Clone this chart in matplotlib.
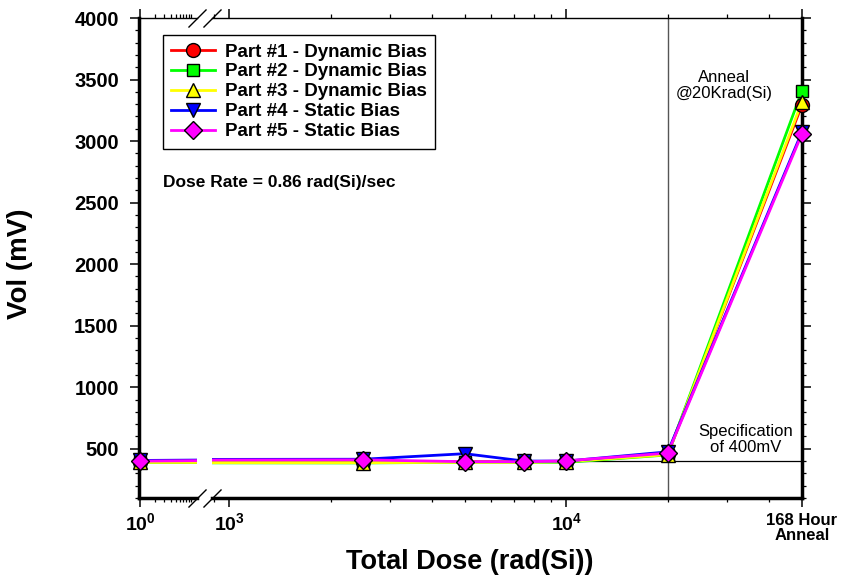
import matplotlib
matplotlib.use("Agg")
import matplotlib.pyplot as plt
from matplotlib.lines import Line2D
from matplotlib.ticker import MultipleLocator, FixedLocator, LogLocator, NullFormatter

plt.rcParams['font.family'] = 'Liberation Sans'
plt.rcParams['mathtext.fontset'] = 'custom'
plt.rcParams['mathtext.rm'] = 'Liberation Sans:bold'
plt.rcParams['mathtext.it'] = 'Liberation Sans:bold'
plt.rcParams['mathtext.bf'] = 'Liberation Sans:bold'

# total dose in rad(Si); the last point is the 168 hour anneal
dose = [1, 2500, 5000, 7500, 10000, 20000, 50000]

part1 = [395, 390, 395, 395, 395, 455, 3295]
part2 = [390, 385, 390, 390, 390, 450, 3410]
part3 = [390, 387, 390, 390, 395, 452, 3320]
part4 = [405, 415, 460, 400, 400, 475, 3075]
part5 = [400, 410, 395, 395, 402, 465, 3060]

labels = ["Part #1 - Dynamic Bias", "Part #2 - Dynamic Bias", "Part #3 - Dynamic Bias",
          "Part #4 - Static Bias", "Part #5 - Static Bias"]
colors = ['#ff0000', '#00ff00', '#ffff00', '#0000ff', '#ff00ff']
markers = ['o', 's', '^', 'v', 'D']
sizes = [10, 9, 10, 10, 9]
series = [part1, part2, part3, part4, part5]

spec_limit = 400
anneal_dose = 20000

W, H = 847, 577
fig = plt.figure(figsize=(W / 100, H / 100), dpi=100)
bottom = (H - 498) / H
height = 480 / H
axL = fig.add_axes([139 / W, bottom, 58 / W, height])
axR = fig.add_axes([212 / W, bottom, 590 / W, height])

for ax in (axL, axR):
    ax.set_xscale('log')
    ax.set_ylim(100, 4000)
    ax.yaxis.set_major_locator(MultipleLocator(500))
    ax.yaxis.set_minor_locator(MultipleLocator(100))
    ax.axhline(spec_limit, color='k', lw=0.9, zorder=2)
    for i, vals in enumerate(series):
        ax.plot(dose, vals, color=colors[i], lw=2.0, zorder=3 + i)
    ax.spines['top'].set_linewidth(1.0)
    ax.spines['bottom'].set_linewidth(2.5)
    ax.tick_params(which='major', length=6.5, width=1.1, direction='out')
    ax.tick_params(which='minor', length=3, width=0.9, direction='out')
    ax.tick_params(axis='x', which='both', top=True, labeltop=False)
    ax.tick_params(axis='x', which='major', labelsize=14, pad=4)

# left piece: 10^0
axL.set_xlim(0.956, 13.1)
axL.spines['right'].set_visible(False)
axL.spines['left'].set_linewidth(2.5)
axL.xaxis.set_major_locator(FixedLocator([1]))
axL.set_xticklabels([r'$\mathbf{10^{0}}$'])
axL.xaxis.set_minor_locator(LogLocator(subs=range(2, 11)))
axL.xaxis.set_minor_formatter(NullFormatter())
axL.tick_params(axis='y', which='both', left=True, right=False)
axL.tick_params(axis='y', which='major', labelsize=14.5, pad=8)
for lab in axL.get_yticklabels():
    lab.set_fontweight('bold')
for i, vals in enumerate(series):
    axL.plot(dose[:1], vals[:1], ls='none', marker=markers[i], ms=sizes[i],
             mfc=colors[i], mec='k', mew=1, clip_on=False, zorder=10 + i)

# right piece: 10^3 .. anneal
axR.set_xlim(890, 50000)
axR.spines['left'].set_visible(False)
axR.spines['right'].set_linewidth(2.5)
axR.xaxis.set_major_locator(FixedLocator([1000, 10000, 50000]))
axR.set_xticklabels([r'$\mathbf{10^{3}}$', r'$\mathbf{10^{4}}$', '168 Hour\nAnneal'])
axR.xaxis.set_minor_locator(LogLocator(subs=range(2, 10)))
axR.xaxis.set_minor_formatter(NullFormatter())
lab = axR.get_xticklabels()[2]
lab.set_fontsize(12)
lab.set_fontweight('bold')
lab.set_linespacing(1.0)
axR.yaxis.tick_right()
axR.tick_params(axis='y', which='both', labelright=False, left=False, right=True)
axR.axvline(anneal_dose, color='#555555', lw=1.0, zorder=2)
for i, vals in enumerate(series):
    axR.plot(dose[1:], vals[1:], ls='none', marker=markers[i], ms=sizes[i],
             mfc=colors[i], mec='k', mew=1, clip_on=False, zorder=10 + i)

# break marks
brk = dict(marker=[(-1, -1), (1, 1)], markersize=13, ls='none', color='k',
           mec='k', mew=1, clip_on=False)
axL.plot([1, 1], [0, 1], transform=axL.transAxes, **brk)
axR.plot([0, 0], [0, 1], transform=axR.transAxes, **brk)

axR.text(0.868, 0.86, 'Anneal\n@20Krad(Si)', transform=axR.transAxes,
         ha='center', va='center', fontsize=12, linespacing=1.1)
axR.text(0.905, 0.122, 'Specification\nof 400mV', transform=axR.transAxes,
         ha='center', va='center', fontsize=12, linespacing=1.1)

handles = [Line2D([], [], color=colors[i], lw=2.0, marker=markers[i], ms=sizes[i],
                  mfc=colors[i], mec='k', mew=1) for i in range(5)]
leg = fig.legend(handles, labels, loc='upper left', bbox_to_anchor=(163 / W, 1 - 35 / H),
                 borderaxespad=0, fancybox=False, edgecolor='k', framealpha=1,
                 prop={'weight': 'bold', 'size': 13.5}, handlelength=2.3,
                 handletextpad=0.55, labelspacing=0.15, borderpad=0.45)
leg.get_frame().set_linewidth(1.0)

fig.text(163 / W, 1 - 183 / H, 'Dose Rate = 0.86 rad(Si)/sec', fontsize=12.5,
         fontweight='bold', va='center', ha='left')
fig.text(470 / W, 1 - 562 / H, 'Total Dose (rad(Si))', fontsize=19.5,
         fontweight='bold', ha='center', va='center')
fig.text(20 / W, 1 - 264 / H, 'Vol (mV)', fontsize=20, fontweight='bold',
         ha='center', va='center', rotation=90)

fig.savefig('out.png', dpi=100)
